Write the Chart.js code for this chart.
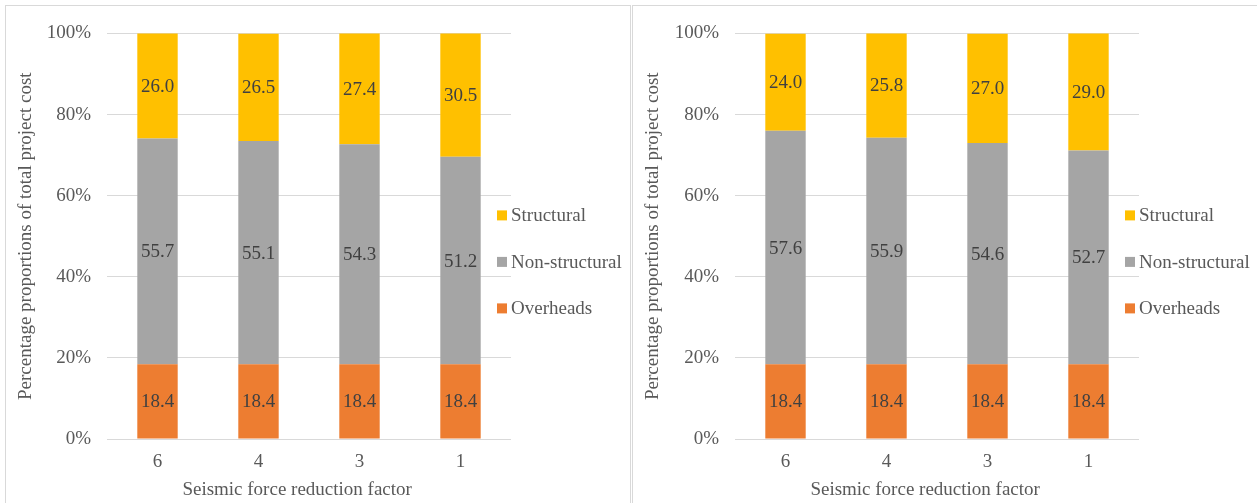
<!DOCTYPE html>
<html>
<head>
<meta charset="utf-8">
<script src="https://cdn.jsdelivr.net/npm/chart.js@4"></script>
<style>
  html, body { margin: 0; padding: 0; background: #fff; overflow: hidden; }
  body { width: 1257px; height: 503px; position: relative; }
  .panel { position: absolute; top: 5px; border: 1px solid #d9d9d9; background: #fff; }
  #p1 { left: 5px; width: 624px; height: 510px; }
  #p2 { left: 632px; width: 640px; height: 510px; }
  canvas { display: block; }
</style>
</head>
<body>
<div class="panel" id="p1"><canvas id="c1" width="624" height="497"></canvas></div>
<div class="panel" id="p2"><canvas id="c2" width="624" height="497"></canvas></div>
<script>
// Seismic force reduction factors on the horizontal axis
const categories = ['6', '4', '3', '1'];
const seriesNames = ['Overheads', 'Non-structural', 'Structural'];
const seriesColors = ['#ED7D31', '#A5A5A5', '#FFC000'];

// First panel: cost shares (%)
const overheadsA = [18.4, 18.4, 18.4, 18.4];
const nonStructuralA = [55.7, 55.1, 54.3, 51.2];
const structuralA = [26.0, 26.5, 27.4, 30.5];

// Second panel: cost shares (%)
const overheadsB = [18.4, 18.4, 18.4, 18.4];
const nonStructuralB = [57.6, 55.9, 54.6, 52.7];
const structuralB = [24.0, 25.8, 27.0, 29.0];

// Percentage axis
const yTickValues = [0, 20, 40, 60, 80, 100];

const FONT = 'Liberation Serif, "Times New Roman", serif';
const TEXT_GREY = '#595959';
const LABEL_GREY = '#404040';

// Writes each segment's value in the middle of the segment
const segmentLabels = {
  id: 'segmentLabels',
  afterDatasetsDraw(chart) {
    const ctx = chart.ctx;
    ctx.save();
    ctx.font = '19px ' + FONT;
    ctx.fillStyle = LABEL_GREY;
    ctx.textAlign = 'center';
    ctx.textBaseline = 'middle';
    chart.data.datasets.forEach((ds, di) => {
      const meta = chart.getDatasetMeta(di);
      meta.data.forEach((bar, i) => {
        const v = ds.data[i];
        const y = (bar.y + bar.base) / 2;
        ctx.fillText(v.toFixed(1), bar.x, y + 1);
      });
    });
    ctx.restore();
  }
};

// Legend on the right, topmost series first
const sideLegend = {
  id: 'sideLegend',
  afterDraw(chart, args, opts) {
    const ctx = chart.ctx;
    const area = chart.chartArea;
    ctx.save();
    ctx.font = '19px ' + FONT;
    ctx.textBaseline = 'middle';
    ctx.textAlign = 'left';
    const sets = chart.data.datasets.slice().reverse();
    sets.forEach((ds, i) => {
      const cy = area.top + opts.firstOffset + i * opts.gap;
      ctx.fillStyle = ds.backgroundColor;
      ctx.fillRect(area.right + opts.boxX, cy - 5, 10, 10);
      ctx.fillStyle = TEXT_GREY;
      ctx.fillText(ds.label, area.right + opts.textX, cy + 1);
    });
    ctx.restore();
  }
};

function makeChart(id, values, yAxisWidth, rightPad) {
  return new Chart(document.getElementById(id), {
    type: 'bar',
    data: {
      labels: categories,
      datasets: values.map((arr, k) => ({
        label: seriesNames[k],
        data: arr,
        backgroundColor: seriesColors[k],
        borderWidth: 0,
        barPercentage: 0.4,
        categoryPercentage: 1.0
      }))
    },
    options: {
      responsive: false,
      animation: false,
      devicePixelRatio: 1,
      layout: { padding: { top: 26, right: rightPad, bottom: 0, left: 0 } },
      plugins: {
        legend: { display: false },
        tooltip: { enabled: false },
        sideLegend: { firstOffset: 182, gap: 46.5, boxX: -14, textX: 0 }
      },
      scales: {
        x: {
          stacked: true,
          grid: { display: false, drawTicks: false },
          border: { display: false },
          ticks: { color: TEXT_GREY, font: { family: FONT, size: 19 }, padding: 12 },
          title: {
            display: true,
            // trailing non-breaking spaces nudge the centred title slightly left
            text: 'Seismic force reduction factor\u00a0\u00a0\u00a0\u00a0\u00a0',
            color: TEXT_GREY,
            font: { family: FONT, size: 19 },
            padding: { top: 0, bottom: 2 }
          },
          afterFit(scale) { scale.height = 64; }
        },
        y: {
          stacked: true,
          min: yTickValues[0],
          max: yTickValues[yTickValues.length - 1],
          afterBuildTicks(scale) { scale.ticks = yTickValues.map(v => ({ value: v })); },
          grid: { color: '#d9d9d9', lineWidth: 1, drawTicks: false },
          border: { display: false },
          ticks: {
            color: TEXT_GREY,
            font: { family: FONT, size: 19 },
            padding: 16,
            callback: v => v + '%'
          },
          title: {
            display: true,
            text: 'Percentage proportions of total project cost',
            color: TEXT_GREY,
            font: { family: FONT, size: 19 },
            padding: { top: 9, bottom: 0 }
          },
          afterFit(scale) { scale.width = yAxisWidth; }
        }
      }
    },
    plugins: [segmentLabels, sideLegend]
  });
}

makeChart('c1', [overheadsA, nonStructuralA, structuralA], 101, 119);
makeChart('c2', [overheadsB, nonStructuralB, structuralB], 102, 118);
</script>
</body>
</html>
